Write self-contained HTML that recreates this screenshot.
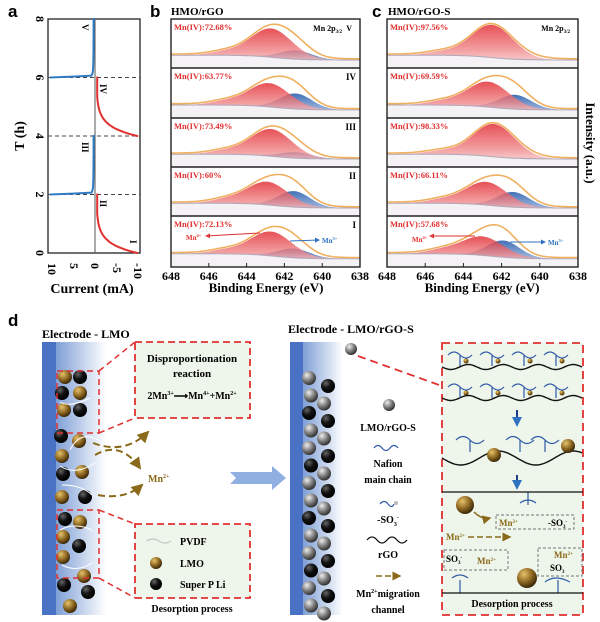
<!DOCTYPE html>
<html><head><meta charset="utf-8"><style>
html,body{margin:0;padding:0;background:#fff;}
svg{display:block;font-family:"Liberation Serif",serif;}
.s{font-family:"Liberation Sans",sans-serif;}
</style></head><body>
<svg id="S" width="600" height="622" viewBox="0 0 600 622" xmlns="http://www.w3.org/2000/svg">
<defs>
<linearGradient id="gr" x1="0" y1="0" x2="0" y2="1"><stop offset="0" stop-color="#e0262c"/><stop offset="0.6" stop-color="#f08a8c"/><stop offset="1" stop-color="#fbe6e6"/></linearGradient>
<linearGradient id="gb" x1="0" y1="0" x2="0" y2="1"><stop offset="0" stop-color="#2d62b0"/><stop offset="0.6" stop-color="#8aa6d4"/><stop offset="1" stop-color="#eef2f8"/></linearGradient>
<linearGradient id="el" x1="0" y1="0" x2="1" y2="0"><stop offset="0" stop-color="#7f9fd6"/><stop offset="1" stop-color="#ffffff"/></linearGradient>
<radialGradient id="bg" cx="0.35" cy="0.3" r="0.7"><stop offset="0" stop-color="#e6c36a"/><stop offset="0.6" stop-color="#8a6420"/><stop offset="1" stop-color="#3e2a08"/></radialGradient>
<radialGradient id="bk" cx="0.35" cy="0.3" r="0.7"><stop offset="0" stop-color="#666"/><stop offset="0.5" stop-color="#111"/><stop offset="1" stop-color="#000"/></radialGradient>
<radialGradient id="gy" cx="0.35" cy="0.3" r="0.7"><stop offset="0" stop-color="#eee"/><stop offset="0.6" stop-color="#777"/><stop offset="1" stop-color="#333"/></radialGradient>
<marker id="ar" markerWidth="6" markerHeight="6" refX="5" refY="3" orient="auto"><path d="M0,0 L6,3 L0,6 z" fill="#8a6a1a"/></marker>
<marker id="arr" markerWidth="5" markerHeight="5" refX="4" refY="2.5" orient="auto"><path d="M0,0 L5,2.5 L0,5 z" fill="#e03a3a"/></marker>
<marker id="arb" markerWidth="5" markerHeight="5" refX="4" refY="2.5" orient="auto"><path d="M0,0 L5,2.5 L0,5 z" fill="#2f72c0"/></marker>
</defs>

<!-- panel a -->
<text x="8" y="17" font-size="17" font-weight="bold" class="s">a</text>
<rect x="48" y="19" width="92" height="234" fill="none" stroke="#222" stroke-width="1.3"/>
<line x1="95" y1="19" x2="95" y2="253" stroke="#555" stroke-width="1"/>
<g stroke="#444" stroke-dasharray="4,3" stroke-width="1">
<line x1="48" y1="77.5" x2="140" y2="77.5"/><line x1="48" y1="136" x2="140" y2="136"/><line x1="48" y1="194.5" x2="140" y2="194.5"/></g>
<g font-size="12" font-weight="bold" text-anchor="middle">
<text transform="translate(40,19) rotate(90)" dy="4">8</text>
<text transform="translate(40,77.5) rotate(90)" dy="4">6</text>
<text transform="translate(40,136) rotate(90)" dy="4">4</text>
<text transform="translate(40,194.5) rotate(90)" dy="4">2</text>
<text transform="translate(40,253) rotate(90)" dy="4">0</text>
<text transform="translate(52,263) rotate(90)" text-anchor="start" dy="4">10</text>
<text transform="translate(74,263) rotate(90)" text-anchor="start" dy="4">5</text>
<text transform="translate(95,263) rotate(90)" text-anchor="start" dy="4">0</text>
<text transform="translate(117,263) rotate(90)" text-anchor="start" dy="4">-5</text>
<text transform="translate(138,263) rotate(90)" text-anchor="start" dy="4">-10</text>
</g>
<text transform="translate(24,136) rotate(-90)" font-size="14" font-weight="bold" text-anchor="middle">T (h)</text>
<text x="92" y="293" font-size="14" font-weight="bold" text-anchor="middle">Current (mA)</text>
<g font-size="9" font-weight="bold">
<text transform="translate(82,24) rotate(90)">V</text>
<text transform="translate(100,84) rotate(90)">IV</text>
<text transform="translate(82,142) rotate(90)">III</text>
<text transform="translate(100,200) rotate(90)">II</text>
<text transform="translate(130,240) rotate(90)">I</text>
</g>
<g id="acurves" fill="none" stroke-width="2"></g>

<!-- panel b/c -->
<text x="150" y="17" font-size="17" font-weight="bold" class="s">b</text>
<text x="171" y="15" font-size="11" font-weight="bold">HMO/rGO</text>
<text x="372" y="17" font-size="17" font-weight="bold" class="s">c</text>
<text x="388" y="15" font-size="11" font-weight="bold">HMO/rGO-S</text>
<g id="xps"></g>
<g font-size="8" font-weight="bold" text-anchor="end">
<text x="342" y="31">Mn 2p<tspan font-size="5" dy="2">3/2</tspan></text>
<text x="352" y="31">V</text>
<text x="570" y="31">Mn 2p<tspan font-size="5" dy="2">3/2</tspan></text>
</g>
<g font-size="7" font-weight="bold">
<text x="186" y="240" fill="#e03030">Mn<tspan font-size="4.5" dy="-3">4+</tspan></text>
<text x="322" y="243" fill="#2f72c0">Mn<tspan font-size="4.5" dy="-3">3+</tspan></text>
<text x="412" y="242" fill="#e03030">Mn<tspan font-size="4.5" dy="-3">4+</tspan></text>
<text x="548" y="245" fill="#2f72c0">Mn<tspan font-size="4.5" dy="-3">3+</tspan></text>
</g>
<text x="266" y="292" font-size="13" font-weight="bold" text-anchor="middle">Binding Energy (eV)</text>
<text x="482" y="292" font-size="13" font-weight="bold" text-anchor="middle">Binding Energy (eV)</text>
<text transform="translate(586,143) rotate(90)" font-size="13" font-weight="bold" text-anchor="middle">Intensity (a.u.)</text>

<!-- panel d -->
<text x="8" y="326" font-size="17" font-weight="bold" class="s">d</text>
<text x="42" y="338" font-size="12" font-weight="bold">Electrode - LMO</text>
<rect x="42" y="342" width="14" height="273" fill="#4a72c4"/>
<rect x="56" y="342" width="50" height="273" fill="url(#el)"/>
<rect x="135" y="342" width="115" height="76" fill="#eef5ea" stroke="#e03030" stroke-width="1.8" stroke-dasharray="7,4"/>
<rect x="135" y="524" width="115" height="74" fill="#eef5ea" stroke="#e03030" stroke-width="1.8" stroke-dasharray="7,4"/>
<text x="192" y="362" font-size="11" font-weight="bold" text-anchor="middle">Disproportionation</text>
<text x="192" y="377" font-size="11" font-weight="bold" text-anchor="middle">reaction</text>
<text x="192" y="399" font-size="10" font-weight="bold" text-anchor="middle">2Mn<tspan font-size="6" dy="-4">3+</tspan><tspan dy="4">⟶Mn</tspan><tspan font-size="6" dy="-4">4+</tspan><tspan dy="4">+Mn</tspan><tspan font-size="6" dy="-4">2+</tspan></text>
<path d="M147,541 q6,-4 12,0 t12,0" fill="none" stroke="#bbb" stroke-width="1"/>
<text x="180" y="545" font-size="10" font-weight="bold">PVDF</text>
<circle cx="156" cy="563" r="6" fill="url(#bg)"/><text x="180" y="567" font-size="10" font-weight="bold">LMO</text>
<circle cx="156" cy="584" r="6" fill="url(#bk)"/><text x="180" y="588" font-size="10" font-weight="bold">Super  P Li</text>
<text x="192" y="612" font-size="10" font-weight="bold" text-anchor="middle">Desorption process</text>
<g id="lballs"></g>
<rect x="57" y="371" width="42" height="62" fill="none" stroke="#e03030" stroke-width="1.5" stroke-dasharray="6,4"/>
<rect x="57" y="510" width="42" height="68" fill="none" stroke="#e03030" stroke-width="1.5" stroke-dasharray="6,4"/>
<g stroke="#e03030" stroke-width="1.5" stroke-dasharray="6,4"><line x1="99" y1="433" x2="135" y2="418"/><line x1="99" y1="371" x2="135" y2="342"/><line x1="99" y1="510" x2="135" y2="524"/><line x1="99" y1="578" x2="135" y2="598"/></g>
<g fill="none" stroke="#8a6a1a" stroke-width="2" stroke-dasharray="7,4" marker-end="url(#ar)">
<path d="M93,443 Q125,455 148,432"/><path d="M95,455 Q120,440 140,468"/><path d="M98,495 Q125,500 142,485"/></g>
<text x="148" y="482" font-size="10" font-weight="bold" fill="#8a6a1a">Mn<tspan font-size="6" dy="-4">2+</tspan></text>
<path d="M230,472 L272,472 L272,466 L286,478 L272,490 L272,484 L230,484 L236,478 z" fill="#8fb0e0"/>

<text x="288" y="333" font-size="12" font-weight="bold">Electrode - LMO/rGO-S</text>
<rect x="290" y="342" width="13" height="273" fill="#4a72c4"/>
<rect x="303" y="342" width="40" height="273" fill="url(#el)"/>
<g id="rballs"></g>
<circle cx="351" cy="349" r="6" fill="url(#gy)"/>
<line x1="358" y1="356" x2="442" y2="386" stroke="#e03030" stroke-width="1.8" stroke-dasharray="8,5"/>
<rect x="442" y="343" width="141" height="272" fill="#eef5ea" stroke="#e03030" stroke-width="1.8" stroke-dasharray="8,5"/>
<circle cx="389" cy="405" r="6" fill="url(#gy)"/>
<text x="388" y="431" font-size="10" font-weight="bold" text-anchor="middle">LMO/rGO-S</text>
<path d="M374,448 q4,-5 8,0 t8,0 t8,0" fill="none" stroke="#2e5aa8" stroke-width="1.2"/>
<text x="388" y="467" font-size="10" font-weight="bold" text-anchor="middle">Nafion</text>
<text x="388" y="483" font-size="10" font-weight="bold" text-anchor="middle">main chain</text>
<path d="M380,504 q4,-5 8,0 t6,0" fill="none" stroke="#2e5aa8" stroke-width="1.2"/><circle cx="396" cy="503" r="2" fill="#bbb"/>
<text x="388" y="523" font-size="10" font-weight="bold" text-anchor="middle">-SO<tspan font-size="6" dy="3">3</tspan><tspan font-size="6" dy="-7">-</tspan></text>
<path d="M367,540 q5,-6 10,0 t10,0 t10,0 t10,0" fill="none" stroke="#111" stroke-width="1.3"/>
<text x="388" y="558" font-size="10" font-weight="bold" text-anchor="middle">rGO</text>
<line x1="376" y1="576" x2="400" y2="576" stroke="#8a6a1a" stroke-width="1.5" stroke-dasharray="6,3" marker-end="url(#ar)"/>
<text x="388" y="597" font-size="10" font-weight="bold" text-anchor="middle">Mn<tspan font-size="6" dy="-4">2+</tspan><tspan dy="4">migration</tspan></text>
<text x="388" y="613" font-size="10" font-weight="bold" text-anchor="middle">channel</text>
<g id="rbox"></g>
<line x1="442" y1="492" x2="583" y2="492" stroke="#111" stroke-width="1.3"/>
<line x1="442" y1="593" x2="583" y2="593" stroke="#111" stroke-width="1.3"/>
<g stroke="#1f3f8a" stroke-width="2" marker-end="url(#arb)"><line x1="517" y1="410" x2="517" y2="425"/><line x1="517" y1="475" x2="517" y2="488"/></g>
<circle cx="465" cy="505" r="9" fill="url(#bg)"/>
<circle cx="527" cy="578" r="10" fill="url(#bg)"/>
<circle cx="494" cy="455" r="7" fill="url(#bg)"/>
<circle cx="568" cy="446" r="7" fill="url(#bg)"/>
<g fill="none" stroke="#777" stroke-dasharray="3,2" stroke-width="1"><rect x="496" y="515" width="78" height="14"/><rect x="444" y="550" width="64" height="20"/><rect x="538" y="548" width="44" height="28"/></g>
<g font-size="9" font-weight="bold">
<text x="499" y="526" fill="#8a6a1a">Mn<tspan font-size="5" dy="-3">2+</tspan></text><text x="548" y="526">-SO<tspan font-size="5" dy="2">3</tspan><tspan font-size="5" dy="-5">-</tspan></text>
<text x="446" y="540" fill="#8a6a1a">Mn<tspan font-size="5" dy="-3">2+</tspan></text>
<text x="446" y="562">SO<tspan font-size="5" dy="2">3</tspan><tspan font-size="5" dy="-5">-</tspan></text><text x="477" y="564" fill="#8a6a1a">Mn<tspan font-size="5" dy="-3">2+</tspan></text>
<text x="554" y="558" fill="#8a6a1a">Mn<tspan font-size="5" dy="-3">2+</tspan></text><text x="550" y="571">SO<tspan font-size="5" dy="2">3</tspan></text>
</g>
<line x1="468" y1="537" x2="510" y2="537" stroke="#8a6a1a" stroke-width="1.5" stroke-dasharray="6,3" marker-end="url(#ar)"/>
<path d="M474,512 q8,8 16,6" fill="none" stroke="#8a6a1a" stroke-width="1.5" marker-end="url(#ar)"/>
<text x="512" y="607" font-size="10" font-weight="bold" text-anchor="middle">Desorption process</text>
</svg>
<script>
var NS="http://www.w3.org/2000/svg";
function el(p,t,a){var e=document.createElementNS(NS,t);for(var k in a)e.setAttribute(k,a[k]);p.appendChild(e);return e;}
var A=document.getElementById('acurves');
function Y(T){return 253-29.25*T;} function X(I){return 95-4.3*I;}
function blue(t0){var d="M"+X(0)+","+Y(t0+2);for(var i=0;i<=60;i++){var t=t0+2-i*2/60;var dt=t-t0;var I=0.3+10/(1+dt*40)*(dt<0.05?1:0.2);if(dt<0.02)I=10.5;d+=" L"+X(I).toFixed(1)+","+Y(t).toFixed(1);}el(A,'path',{d:d,stroke:'#2f7bc4'});}
function red(t0){var d="M"+X(-0.3)+","+Y(t0+2);for(var i=0;i<=60;i++){var t=t0+2-i*2/60;var dt=t-t0;var I=-(9.8-9*(1-Math.exp(-dt*3))*1.05);I=Math.max(-9.9,Math.min(-0.5,I));d+=" L"+X(I).toFixed(1)+","+Y(t).toFixed(1);}d+=" L"+X(-10)+","+Y(t0);el(A,'path',{d:d,stroke:'#e03030'});}
blue(6);blue(2);red(4);red(0);
var G=document.getElementById('xps');
function g(E,c,s){return Math.exp(-(E-c)*(E-c)/(2*s*s));}
function panel(x0,x1,y0,h,lab,ar,ab,cr,cb,rn){
 var w=x1-x0;function px(E){return x0+(648-E)*w/10;}
 var base=y0+h-4,sc=h-9;
 function bg(E){return 0.1+0.12/(1+Math.exp(-(E-642.5)/0.7));}
 function py(v){return base-v*sc;}
 var dr="",db="",de="",dg="";
 var N=120,x;
 for(var i=0;i<=N;i++){var E=648-10*i/N;var b=bg(E);var r=ar*g(E,cr,1.1)+0.08*g(E,645.2,0.8);var bl=ab*g(E,cb,0.85);
 x=px(E).toFixed(1);dr+=(i?" L":"M")+x+","+py(b+r).toFixed(1);db+=(i?" L":"M")+x+","+py(b+bl).toFixed(1);de+=(i?" L":"M")+x+","+py(b+r+bl+0.03).toFixed(1);dg+=(i?" L":"M")+x+","+py(b).toFixed(1);}
 var close=" L"+x1+","+(y0+h)+" L"+x0+","+(y0+h)+" Z";
 el(G,'path',{d:db+close,fill:'url(#gb)',opacity:0.9});
 el(G,'path',{d:dr+close,fill:'url(#gr)',opacity:0.8});
 el(G,'path',{d:dg+" L"+x1+","+(y0+h)+" L"+x0+","+(y0+h)+" Z",fill:'#f4f2f5',stroke:'#b0a6b8','stroke-width':1});
 el(G,'path',{d:de,fill:'none',stroke:'#f0b060','stroke-width':1.6});
 var t=el(G,'text',{x:x0+3,y:y0+11,'font-size':8.5,'font-weight':'bold',fill:'#e03030'});t.textContent=lab;
 if(rn){var t2=el(G,'text',{x:x1-4,y:y0+12,'font-size':9,'font-weight':'bold','text-anchor':'end'});t2.textContent=rn;}
}
function col(x0,x1,labs,pars,rns){
 var ys=[19,68,118,167,216,267];
 for(var i=0;i<5;i++){var p=pars[i];panel(x0,x1,ys[i],ys[i+1]-ys[i],labs[i],p[0],p[1],p[2],p[3],rns?rns[i]:null);}
 el(G,'rect',{x:x0,y:19,width:x1-x0,height:248,fill:'none',stroke:'#222','stroke-width':1.4});
 for(var i=1;i<5;i++)el(G,'line',{x1:x0,x2:x1,y1:ys[i],y2:ys[i],stroke:'#222','stroke-width':1.4});
 var w=x1-x0;for(var e=648;e>=638;e-=2){var x=x0+(648-e)*w/10;el(G,'line',{x1:x,x2:x,y1:267,y2:263,stroke:'#222'});var t=el(G,'text',{x:x,y:280,'font-size':12,'font-weight':'bold','text-anchor':'middle'});t.textContent=e;}
}
col(171,360,["Mn(IV):72.68%","Mn(IV):63.77%","Mn(IV):73.49%","Mn(IV):60%","Mn(IV):72.13%"],
 [[0.72,0.22,642.7,641.4],[0.58,0.38,642.8,641.4],[0.68,0.15,642.7,641.4],[0.58,0.4,642.9,641.5],[0.58,0.22,642.7,641.5]],[null,"IV","III","II","I"]);
col(387,578,["Mn(IV):97.56%","Mn(IV):69.59%","Mn(IV):98.33%","Mn(IV):66.11%","Mn(IV):57.68%"],
 [[0.82,0.02,642.5,640.5],[0.62,0.35,642.7,641.3],[0.82,0.02,642.4,640.5],[0.58,0.38,642.8,641.4],[0.45,0.4,643,641.9]],null);
el(G,'line',{x1:260,y1:233,x2:206,y2:236,stroke:'#e03030','marker-end':'url(#arr)'});
el(G,'line',{x1:290,y1:241,x2:319,y2:240,stroke:'#2f72c0','marker-end':'url(#arb)'});
el(G,'line',{x1:475,y1:236,x2:430,y2:236,stroke:'#e03030','marker-end':'url(#arr)'});
el(G,'line',{x1:510,y1:242,x2:545,y2:242,stroke:'#2f72c0','marker-end':'url(#arb)'});
var L=document.getElementById('lballs');
var lb=[[65,377,'bg'],[80,377,'bk'],[62,393,'bk'],[80,393,'bg'],[64,410,'bg'],[80,410,'bk'],[61,436,'bk'],[79,441,'bg'],[62,456,'bg'],[63,474,'bk'],[82,472,'bg'],[62,497,'bg'],[85,497,'bk'],[65,519,'bk'],[80,522,'bg'],[63,537,'bg'],[79,546,'bk'],[63,557,'bg'],[84,576,'bg'],[64,585,'bk'],[88,592,'bk'],[70,606,'bg']];
lb.forEach(function(b){el(L,'circle',{cx:b[0],cy:b[1],r:7,fill:'url(#'+b[2]+')'});});
el(L,'path',{d:"M60,402 q10,6 30,-4 M70,450 q10,-20 28,-10 M60,466 q15,10 35,-3 M62,485 q20,0 30,10 M60,530 q15,-8 32,0 M62,565 q15,8 30,-2",fill:'none',stroke:'#fff','stroke-width':1});
var R=document.getElementById('rballs');
for(var i=0;i<14;i++){var y=378+i*17.5;el(R,'circle',{cx:309+(i%2)*2,cy:y,r:7,fill:'url(#'+(i%3==2?'bk':'gy')+')'});el(R,'circle',{cx:326+(i%2?-2:2),cy:y+8,r:7,fill:'url(#'+(i%2?'gy':'bk')+')'});}
var B=document.getElementById('rbox');
function wave(y,amp,per){var d="M442,"+y;for(var x=442;x<=583;x+=2)d+=" L"+x+","+(y+amp*Math.sin((x-442)/per*2*Math.PI)).toFixed(1);el(B,'path',{d:d,fill:'none',stroke:'#111','stroke-width':1.4});}
wave(367,2.5,35);wave(398,2.5,35);wave(458,7,75);
for(var k=0;k<4;k++){var x=460+k*32;[355,387].forEach(function(y){el(B,'path',{d:"M"+x+","+(y+11)+" L"+x+","+y+" M"+(x-12)+","+y+" q6,-6 12,0 t12,0",fill:'none',stroke:'#2e5aa8','stroke-width':1.2});el(B,'circle',{cx:x+6,cy:y+6,r:2.5,fill:'url(#bg)'});});}
[[470,440],[520,440],[545,440]].forEach(function(p){el(B,'path',{d:"M"+p[0]+","+(p[1]+12)+" L"+p[0]+","+p[1]+" M"+(p[0]-14)+","+p[1]+" q7,-7 14,0 t14,0",fill:'none',stroke:'#2e5aa8','stroke-width':1.2});});
el(B,'path',{d:"M528,492 L528,505 M520,503 q8,-6 16,0 M460,593 L460,580 M452,578 q8,-6 16,0 M558,593 L558,580 M545,582 q10,-8 25,0",fill:'none',stroke:'#2e5aa8','stroke-width':1.2});
</script>
</body></html>
